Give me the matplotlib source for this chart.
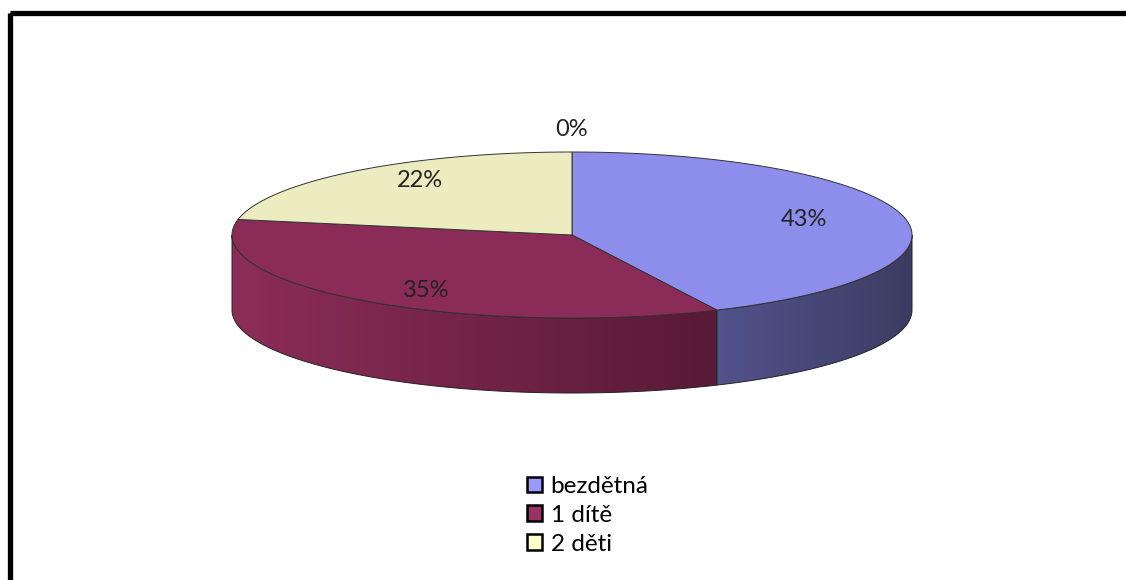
"""
Struktura domácností podle počtu dětí — 3D koláčový graf (styl Excel).
"""
import matplotlib.pyplot as plt
import matplotlib as mpl
import numpy as np
from matplotlib.patches import Polygon, Patch, Rectangle
from matplotlib.colors import LinearSegmentedColormap

mpl.rcParams["font.family"] = ["Lato", "DejaVu Sans"]

# data
categories = ["bezdětná", "1 dítě", "2 děti", ""]
values = [43, 35, 22, 0]
labels = ["43%", "35%", "22%", "0%"]
legend_colors = ["#9999FF", "#993366", "#FFFFCC"]
top_colors = ["#8D8DEB", "#8B2C58", "#ECECC0", "#ECECC0"]
side_colors = [("#52528C", "#3C3C62"), ("#8C2D59", "#581A36"), ("#ECECC0", "#BDBD9A"), ("#ECECC0", "#BDBD9A")]

W, H = 1126, 580
fig = plt.figure(figsize=(W / 100, H / 100), dpi=100)
ax = fig.add_axes([0, 0, 1, 1])
ax.set_xlim(0, W)
ax.set_ylim(H, 0)
ax.axis("off")

# partial frame (cut at right/bottom like the screenshot)
ax.add_patch(Rectangle((9.5, 12.5), W + 50, H + 50, fill=False, lw=3.8,
                       edgecolor="black", joinstyle="round"))

# pie geometry
cx, cy = 572, 235
a, b = 340, 83
depth = 75


def pt(t, dy=0.0):
    r = np.radians(t)
    return cx + a * np.sin(r), cy - b * np.cos(r) + dy


total = sum(values)
starts = np.concatenate([[0], np.cumsum(values)[:-1]]) / total * 360
ends = np.cumsum(values) / total * 360

# side walls (front half: 90..270 deg clockwise from top)
for i, (t1, t2) in enumerate(zip(starts, ends)):
    lo, hi = max(t1, 90), min(t2, 270)
    if hi <= lo:
        continue
    ts = np.linspace(lo, hi, 200)
    top = np.array([pt(t) for t in ts])
    bot = np.array([pt(t, depth) for t in ts])[::-1]
    poly = Polygon(np.vstack([top, bot]), closed=True, facecolor="none",
                   edgecolor="#222222", lw=0.7, zorder=3)
    ax.add_patch(poly)
    xmin, xmax = min(top[:, 0].min(), bot[:, 0].min()), max(top[:, 0].max(), bot[:, 0].max())
    cmap = LinearSegmentedColormap.from_list("s%d" % i, list(side_colors[i]))
    grad = np.linspace(0, 1, 256).reshape(1, -1)
    im = ax.imshow(grad, cmap=cmap, aspect="auto", zorder=2,
                   extent=(xmin, xmax, top[:, 1].max() + depth, top[:, 1].min()))
    im.set_clip_path(poly)

# top faces
for i, (t1, t2) in enumerate(zip(starts, ends)):
    if t2 - t1 <= 0:
        continue
    ts = np.linspace(t1, t2, 300)
    arc = np.array([pt(t) for t in ts])
    ax.add_patch(Polygon(np.vstack([[cx, cy], arc]), closed=True,
                         facecolor=top_colors[i], edgecolor="#333333", lw=0.7, zorder=4))

# labels
for v, lab, t1, t2 in zip(values, labels, starts, ends):
    mid = np.radians((t1 + t2) / 2)
    if v == 0:
        x, y = cx + a * 1.27 * np.sin(mid), cy - b * 1.27 * np.cos(mid)
    else:
        x, y = cx + a * 0.7 * np.sin(mid), cy - b * 0.85 * np.cos(mid)
    ax.text(x, y, lab, ha="center", va="center", fontsize=17, color="#222222", zorder=6)

handles = [Patch(facecolor=c, edgecolor="black", lw=1.8) for c in legend_colors]
ax.legend(handles, categories[:3], loc="upper left",
          bbox_to_anchor=(527 / W, 1 - 476 / H), frameon=False, fontsize=17.5,
          handlelength=0.62, handleheight=0.62, handletextpad=0.35,
          labelspacing=0.32, borderaxespad=0, borderpad=0)

plt.savefig("out.png", dpi=100)
